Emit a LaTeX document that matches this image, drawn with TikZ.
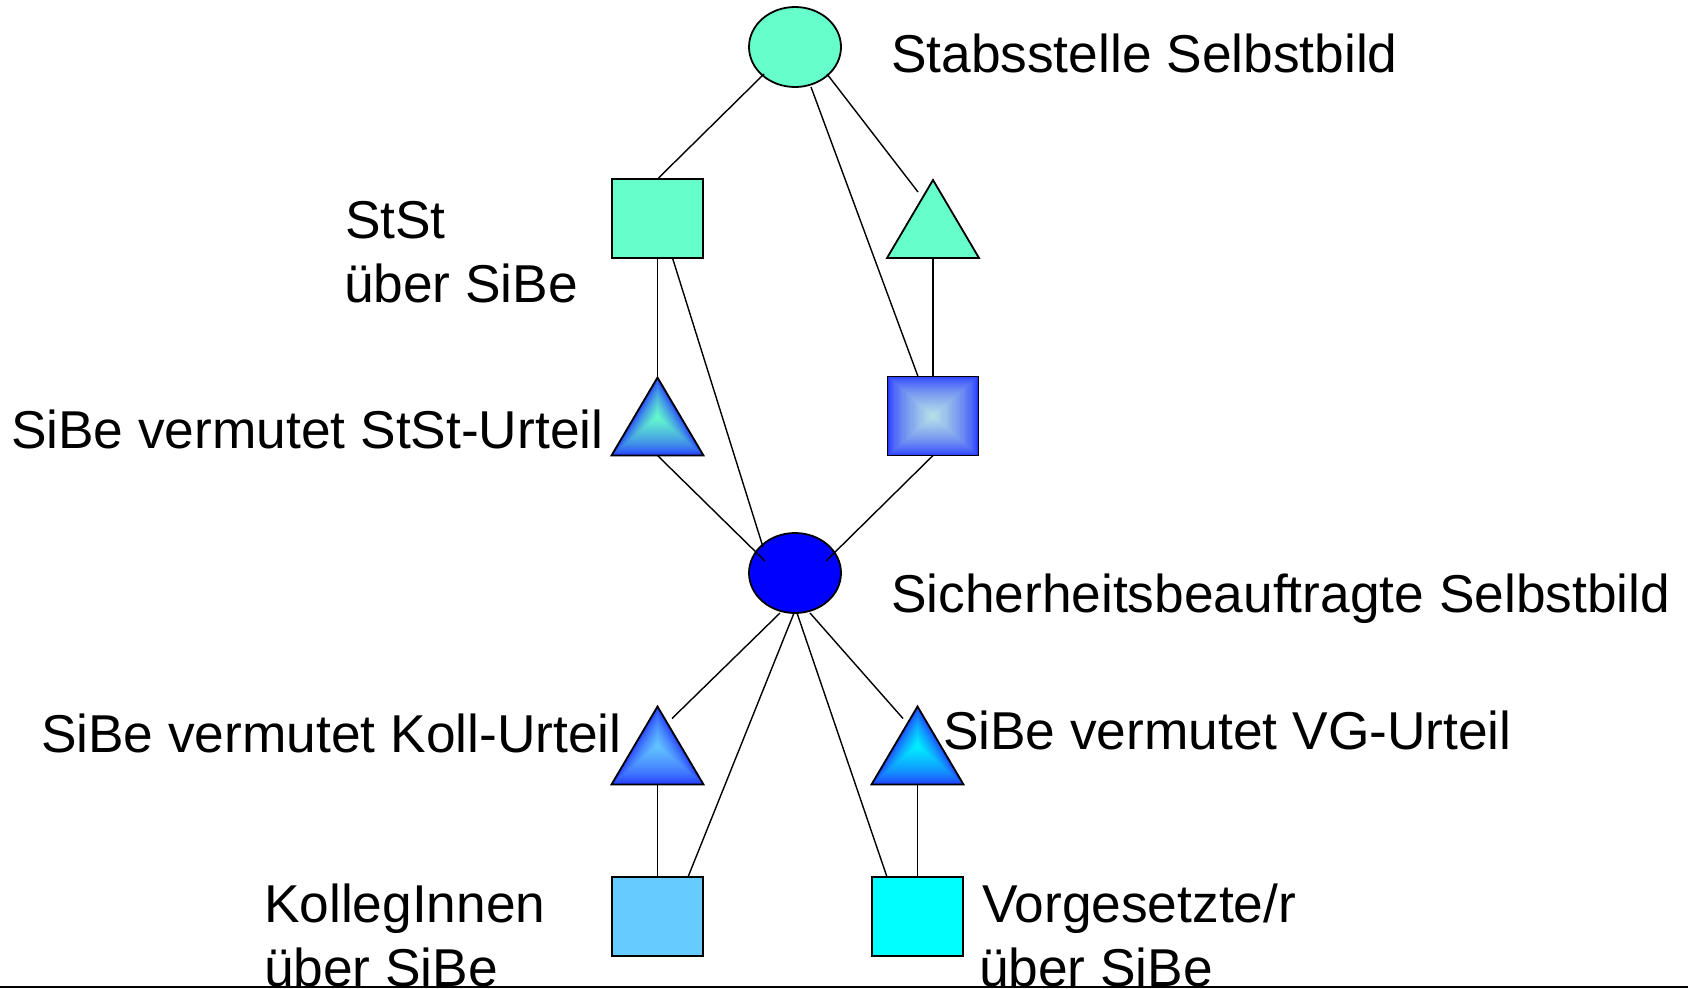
\documentclass[tikz,border=0pt]{standalone}
\usepackage{fontspec}
\setmainfont{Liberation Sans}
\usetikzlibrary{shapes.geometric,calc}
\definecolor{aqua}{RGB}{102,255,204}
\definecolor{sibe}{RGB}{0,0,255}
\definecolor{koll}{RGB}{102,204,255}
\definecolor{vgcol}{RGB}{0,255,255}
\definecolor{gedge}{RGB}{35,55,255}
\definecolor{pale}{RGB}{185,228,230}
\definecolor{kollc}{RGB}{100,200,255}
\definecolor{vgc}{RGB}{0,245,255}
\tikzset{
  shp/.style={draw=black, line width=1.8pt},
  box/.style={rectangle, minimum width=91pt, minimum height=79pt, inner sep=0pt, outer sep=0pt},
  tribox/.style={rectangle, minimum width=92pt, minimum height=78pt, inner sep=0pt, outer sep=0pt},
  oval/.style={ellipse, shp, minimum width=92pt, minimum height=80pt, inner sep=0pt, outer sep=0pt},
  conn/.style={draw=black, line width=1.4pt},
  lbl/.style={anchor=base west, inner sep=0pt, outer sep=0pt, font=\fontsize{53.3}{64}\selectfont}
}
\newcommand{\gradrect}[3]{% node, center colour, edge colour
  \foreach \i in {0,...,40}{
    \pgfmathsetmacro\s{1-\i/40}
    \pgfmathtruncatemacro\p{100*(\i/40)^0.65}
    \fill[#2!\p!#3] ($(#1.center)!\s!(#1.north west)$) rectangle ($(#1.center)!\s!(#1.south east)$);
  }
  \draw[shp] (#1.north west) rectangle (#1.south east);
}
\newcommand{\gradtri}[3]{% node, center colour, edge colour
  \foreach \i in {0,...,40}{
    \pgfmathsetmacro\s{1-\i/40}
    \pgfmathtruncatemacro\p{100*(\i/40)^0.65}
    \fill[#2!\p!#3] ($(#1.center)!\s!(#1.north)$) -- ($(#1.center)!\s!(#1.south west)$) -- ($(#1.center)!\s!(#1.south east)$) -- cycle;
  }
  \draw[shp, line join=miter] (#1.north) -- (#1.south west) -- (#1.south east) -- cycle;
}
\begin{document}
\begin{tikzpicture}[x=1pt,y=-1pt]
\useasboundingbox (0,0) rectangle (1688,988);

% shapes
\node[oval, fill=aqua] (e1) at (795,47) {};
\node[oval, fill=sibe] (e2) at (795,573) {};

\node[box, shp, fill=aqua] (sq1) at (657.5,218.5) {};
\node[box] (sq2) at (933,416) {};
\node[box, shp, fill=koll] (sq3) at (657.5,916.5) {};
\node[box, shp, fill=vgcol] (sq4) at (917.5,916.5) {};

\node[tribox] (tr1) at (933,219) {};
\node[tribox] (tr2) at (657.5,416.5) {};
\node[tribox] (tr3) at (657.5,745.5) {};
\node[tribox] (tr4) at (917.5,745.5) {};

\fill[aqua] (tr1.north) -- (tr1.south west) -- (tr1.south east) -- cycle;
\draw[shp, line join=miter] (tr1.north) -- (tr1.south west) -- (tr1.south east) -- cycle;
\gradrect{sq2}{pale}{gedge}
\gradtri{tr2}{aqua}{gedge}
\gradtri{tr3}{kollc}{gedge}
\gradtri{tr4}{vgc}{gedge}

% connectors
\draw[conn] ($(e1.center)+(-31,27)$) -- (sq1.north);
\draw[conn] ($(e1.center)+(16,40)$) -- ($(sq2.north)+(-15,0)$);
\draw[conn] ($(e1.center)+(32,27)$) -- ($(tr1.north)+(-15,12)$);
\draw[conn] (sq1.south) -- (tr2.north);
\draw[conn] ($(sq1.south)+(15,0)$) -- ($(e2.center)+(-32,-26)$);
\draw[conn] (tr1.south) -- (sq2.north);
\draw[conn] (tr2.south) -- ($(e2.center)+(-30,-12)$);
\draw[conn] (sq2.south) -- ($(e2.center)+(31,-12)$);
\draw[conn] ($(e2.center)+(-15,40)$) -- ($(tr3.north)+(14.5,12)$);
\draw[conn] ($(e2.center)+(-1,40)$) -- ($(sq3.north)+(30.5,0)$);
\draw[conn] ($(e2.center)+(2,40)$) -- ($(sq4.north)+(-30.5,0)$);
\draw[conn] ($(e2.center)+(15,40)$) -- ($(tr4.north)+(-14.5,12)$);
\draw[conn] (tr3.south) -- (sq3.north);
\draw[conn] (tr4.south) -- (sq4.north);

% labels
\node[lbl] (l1) at (891,72) {Stabsstelle Selbstbild};
\node[lbl] (l2a) at (345,238) {StSt};
\node[lbl] (l2b) at (344,302) {über SiBe};
\node[lbl] (l3) at (11,448) {SiBe vermutet StSt-Urteil};
\node[lbl] (l4) at (891,612) {Sicherheitsbeauftragte Selbstbild};
\node[lbl] (l5) at (41,752) {SiBe vermutet Koll-Urteil};
\node[lbl] (l6) at (943,749) {SiBe vermutet VG-Urteil};
\node[lbl] (l7a) at (264,922) {KollegInnen};
\node[lbl] (l7b) at (264,986) {über SiBe};
\node[lbl] (l8a) at (982,922) {Vorgesetzte/r};
\node[lbl] (l8b) at (979,986) {über SiBe};

% bottom border line
\draw[line width=2pt] (0,987) -- (1688,987);
\end{tikzpicture}
\end{document}
